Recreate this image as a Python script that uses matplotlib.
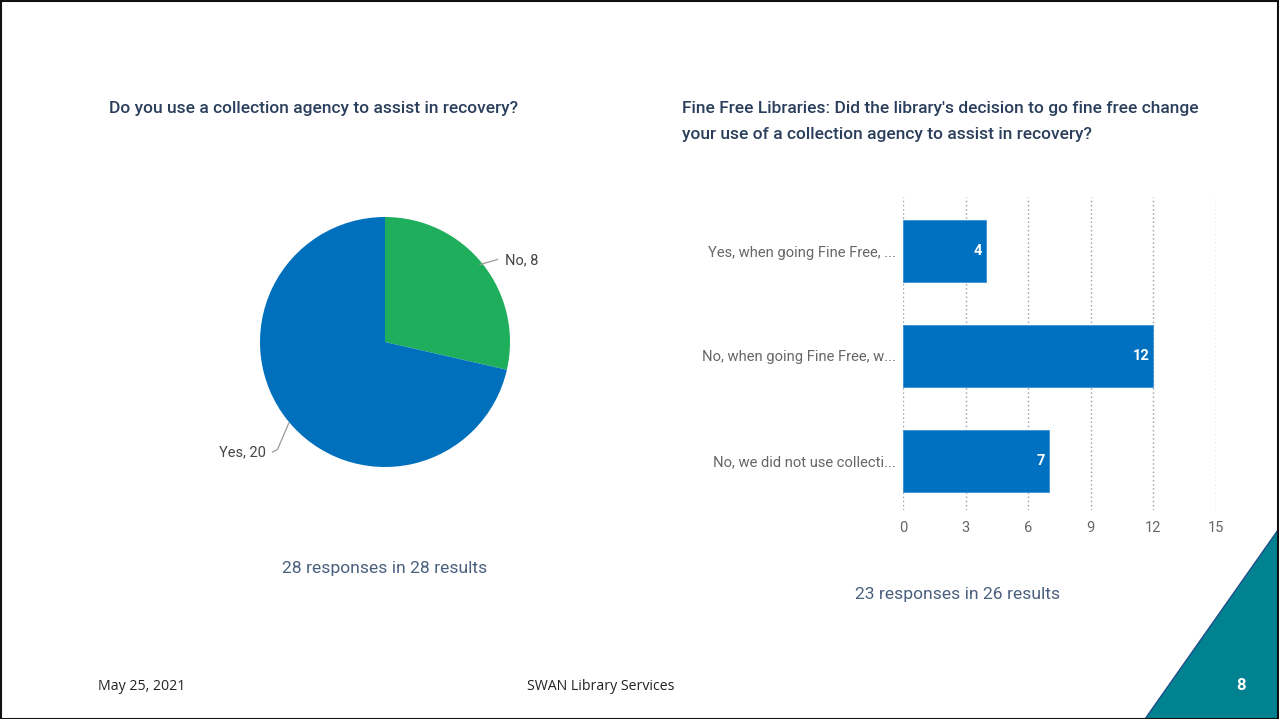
import matplotlib
matplotlib.use("Agg")
import matplotlib.pyplot as plt
from matplotlib.patches import Polygon, Rectangle

plt.rcParams["font.family"] = ["Roboto", "DejaVu Sans"]

# --- data ----------------------------------------------------------------
pie_labels = ["No", "Yes"]
pie_values = [8, 20]
pie_colors = ["#1fae5c", "#0070bc"]

bar_labels = ["Yes, when going Fine Free, ...",
              "No, when going Fine Free, w...",
              "No, we did not use collecti..."]
bar_values = [4, 12, 7]
bar_ticks = [0, 3, 6, 9, 12, 15]

title_left = "Do you use a collection agency to assist in recovery?"
title_right = ["Fine Free Libraries: Did the library's decision to go fine free change",
               "your use of a collection agency to assist in recovery?"]
note_left = "28 responses in 28 results"
note_right = "23 responses in 26 results"

W, H = 1279, 719
fig = plt.figure(figsize=(W / 100, H / 100), dpi=100)
fig.patch.set_facecolor("white")

navy = "#2b3f5c"
slate = "#4a607e"

# --- pie -----------------------------------------------------------------
axp = fig.add_axes([235 / W, 1 - 492 / H, 300 / W, 300 / H])
wedges, _ = axp.pie(pie_values, colors=pie_colors, startangle=90,
                    counterclock=False, radius=1.0)
axp.set_xlim(-1.2, 1.2)
axp.set_ylim(-1.2, 1.2)
axp.set_aspect("equal")
axp.axis("off")
# leader lines + labels
axp.plot([0.76, 0.9], [0.62, 0.66], color="#999999", lw=0.9, clip_on=False)
axp.text(0.96, 0.65, f"{pie_labels[0]}, {pie_values[0]}", fontsize=10.5,
         color="#444444", va="center", ha="left", clip_on=False)
axp.plot([-0.77, -0.86, -0.9], [-0.65, -0.86, -0.88], color="#999999",
         lw=0.9, clip_on=False)
axp.text(-0.95, -0.88, f"{pie_labels[1]}, {pie_values[1]}", fontsize=10.5,
         color="#444444", va="center", ha="right", clip_on=False)

# --- bars ----------------------------------------------------------------
axb = fig.add_axes([903 / W, 1 - 510 / H, 313 / W, 313 / H])
ypos = list(range(len(bar_values)))
axb.barh(ypos, bar_values, height=0.59, color="#0070c0",
         edgecolor="#3a8fd6", linewidth=0.6, zorder=3)
for y, v in zip(ypos, bar_values):
    axb.text(v - 0.2, y, str(v), ha="right", va="center", color="white",
             fontsize=10.5, fontweight="bold", zorder=4)
axb.set_xlim(0, 15)
axb.set_ylim(2.47, -0.515)
axb.set_xticks(bar_ticks)
axb.set_xticklabels([str(t) for t in bar_ticks])
axb.set_yticks(ypos)
axb.set_yticklabels(bar_labels)
for t in bar_ticks:
    axb.axvline(t, color="#9a9a9a", lw=1.0, ls=(0, (1, 2)), zorder=1)
for s in axb.spines.values():
    s.set_visible(False)
axb.tick_params(axis="both", length=0, colors="#666666", labelsize=10.6)
axb.tick_params(axis="x", pad=8, labelsize=10.5)
axb.tick_params(axis="y", pad=5)

# --- titles / notes ------------------------------------------------------
fig.text(109 / W, 1 - 109 / H, title_left, fontsize=12.5, color=navy,
         fontweight="medium", ha="left", va="center")
for i, line in enumerate(title_right):
    fig.text(682 / W, 1 - (108 + 27 * i) / H, line, fontsize=12.5, color=navy,
             fontweight="medium", ha="left", va="center")
fig.text(385 / W, 1 - 569 / H, note_left, fontsize=12.6, color=slate,
         ha="center", va="center")
fig.text(958 / W, 1 - 594 / H, note_right, fontsize=12.6, color=slate,
         ha="center", va="center")

# --- slide footer --------------------------------------------------------
fig.text(98 / W, 1 - 686 / H, "May 25, 2021", fontsize=10.2, color="#222222",
         family=["Open Sans", "DejaVu Sans"], ha="left", va="center")
fig.text(601 / W, 1 - 686 / H, "SWAN Library Services", fontsize=10.2,
         color="#222222", family=["Open Sans", "DejaVu Sans"],
         ha="center", va="center")
tri = Polygon([(1145 / W, 0), (1 - 1 / W, 1 - 530 / H), (1 - 1 / W, 0)],
              closed=True, transform=fig.transFigure, facecolor="#008290",
              edgecolor="#1f4e8c", linewidth=1.0)
fig.patches.append(tri)
fig.text(1241 / W, 1 - 686 / H, "8", fontsize=12, color="white",
         fontweight="bold", ha="center", va="center")
fig.patches.append(Rectangle((0.5 / W, 0.5 / H), 1 - 1.5 / W, 1 - 1.5 / H,
                             transform=fig.transFigure, fill=False,
                             edgecolor="#111111", linewidth=1.5))

fig.savefig("out.png", dpi=100)
